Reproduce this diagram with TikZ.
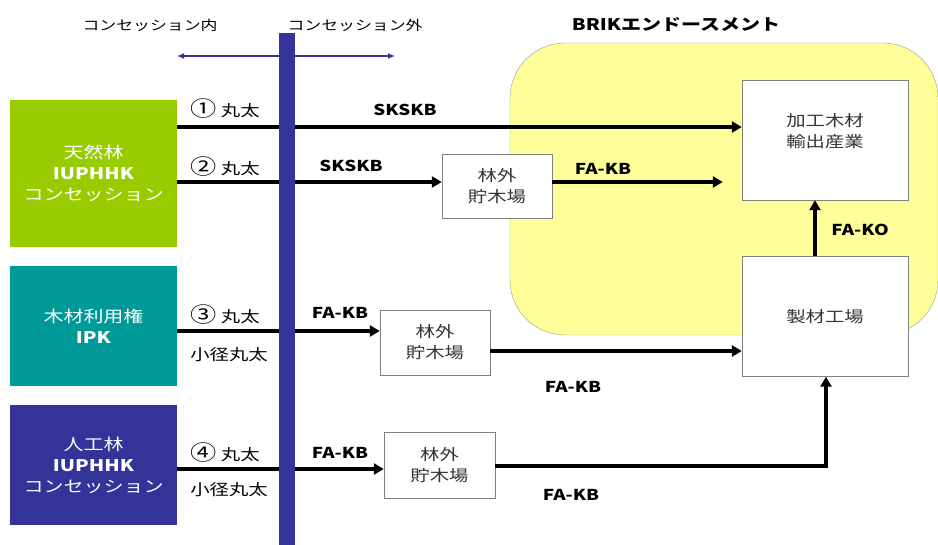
\documentclass[tikz,border=0pt]{standalone}
\usepackage{fontspec}
\setmainfont[FakeStretch=1.25]{Noto Sans CJK JP}
\usetikzlibrary{positioning,arrows.meta}
\definecolor{natgreen}{HTML}{99CC00}
\definecolor{ipkteal}{HTML}{009999}
\definecolor{plantblue}{HTML}{333399}
\definecolor{brikyellow}{HTML}{FFFF99}
\newcommand{\numcirc}[1]{{\fontsize{21}{18}\selectfont #1}}

\begin{document}
\begin{tikzpicture}[x=1pt,y=-1pt]
  \tikzset{srcbox/.style={minimum width=167pt,minimum height=120pt,align=center,text=white,inner sep=0pt,font=\fontsize{16}{21}\selectfont}}
  \tikzset{whitebox/.style={draw=gray,fill=white,align=center,inner sep=0pt,text=black!80,font=\fontsize{15.5}{21}\selectfont}}
  \tikzset{flow/.style={line width=3.6pt,-{Triangle[length=10pt,width=11pt]}}}
  \tikzset{lbl/.style={font=\fontsize{15.5}{18}\selectfont}}
  \tikzset{code/.style={font=\bfseries\fontsize{15}{18}\selectfont}}

  \useasboundingbox (0,0) rectangle (938,545);

  % BRIK endorsement area
  \node[draw=gray!80,fill=brikyellow,rounded corners=55pt,minimum width=428pt,minimum height=292pt] (brik) at (724,189) {};
  \node[font=\bfseries\fontsize{16}{18}\selectfont] (briklbl) at (676,25) {BRIKエンドースメント};

  % sources
  \node[srcbox,fill=natgreen,minimum height=147pt] (alam) at (93.5,173.5) {天然林\\\textbf{IUPHHK}\\コンセッション};
  \node[srcbox,fill=ipkteal] (ipk) at (93.5,326) {木材利用権\\\textbf{IPK}};
  \node[srcbox,fill=plantblue] (hutan) at (93.5,465) {人工林\\\textbf{IUPHHK}\\コンセッション};

  % destinations
  \node[whitebox,minimum width=166pt,minimum height=120pt,text depth=20pt] (export) at (825,140) {加工木材\\輸出産業};
  \node[whitebox,minimum width=166pt,minimum height=120pt] (mill) at (825,316.5) {製材工場};
  \node[whitebox,minimum width=110pt,minimum height=64pt] (yard1) at (497,186) {林外\\貯木場};
  \node[whitebox,minimum width=110pt,minimum height=65pt] (yard2) at (435,342.5) {林外\\貯木場};
  \node[whitebox,minimum width=111pt,minimum height=66pt] (yard3) at (439.5,465) {林外\\貯木場};

  % flows
  \draw[flow] (alam.east |- 0,127) -- (export.west |- 0,127);
  \draw[flow] (alam.east |- 0,182) -- (yard1.west |- 0,182);
  \draw[flow] (yard1.east |- 0,182) -- ([xshift=-19pt]export.west |- 0,182);
  \draw[flow] ([xshift=-10pt]mill.north) -- ([xshift=-10pt]export.south);
  \draw[flow] (ipk.east |- 0,331) -- (yard2.west |- 0,331);
  \draw[flow] (yard2.east |- 0,351) -- (mill.west |- 0,351);
  \draw[flow] (hutan.east |- 0,469) -- (yard3.west |- 0,469);
  \draw[flow] (yard3.east |- 0,466) -| ([xshift=1pt]mill.south);

  % concession border
  \coordinate (inL) at (177,56);
  \coordinate (outR) at (395,56);
  \draw[plantblue,line width=1.3pt,{Latex[length=7pt,width=6pt]}-{Latex[length=7pt,width=6pt]}] (inL) -- (outR);
  \node[fill=plantblue,inner sep=0pt,minimum width=16pt,minimum height=513pt] (bar) at (287,289.5) {};
  \node[font=\fontsize{13.5}{16}\selectfont] (inside) at (150,25) {コンセッション内};
  \node[font=\fontsize{13.5}{16}\selectfont] (outside) at (355,25) {コンセッション外};

  % labels
  \node[lbl] (log1) at (225,109) {\numcirc{①} 丸太};
  \node[lbl] (log2) at (225,167) {\numcirc{②} 丸太};
  \node[lbl] (log3) at (225,315) {\numcirc{③} 丸太};
  \node[lbl] (small3) at (229,355) {小径丸太};
  \node[lbl] (log4) at (225,453) {\numcirc{④} 丸太};
  \node[lbl] (small4) at (229,490) {小径丸太};
  \node[code] (sk1) at (405,110) {SKSKB};
  \node[code] (sk2) at (351,166) {SKSKB};
  \node[code] (fa1) at (603,169) {FA-KB};
  \node[code] (fako) at (860,230) {FA-KO};
  \node[code] (fa3) at (340,313) {FA-KB};
  \node[code] (fa4) at (340,453) {FA-KB};
  \node[code] (fa5) at (573,387) {FA-KB};
  \node[code] (fa6) at (571,495) {FA-KB};
\end{tikzpicture}
\end{document}
